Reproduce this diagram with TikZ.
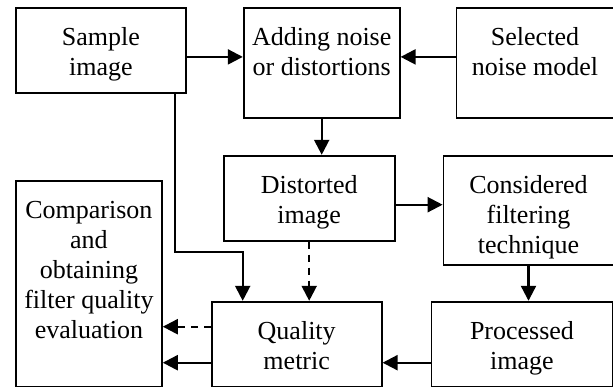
\documentclass[tikz,border=0pt]{standalone}
\usepackage{fontspec}
\setmainfont{Liberation Serif}
\usetikzlibrary{positioning,arrows.meta}

\newcommand{\blocktext}[3]{\parbox[c][#2pt][t]{#1pt}{\centering\vspace*{17pt}\strut #3}}

\begin{document}
\begin{tikzpicture}[x=1pt, y=-1pt,
    blk/.style={draw, line width=1.8pt, inner sep=0pt,
        font=\fontsize{26}{30}\selectfont},
    arr/.style={-{Triangle[length=15pt,width=15pt]}, line width=2.2pt},
    dsh/.style={arr, dash pattern=on 7pt off 6pt}]
    \useasboundingbox (0,0) rectangle (613,387);
    \node[blk, anchor=north west] (sample) at (15,7) {\blocktext{170}{85}{Sample\\image}};
    \node[blk, right=56pt of sample.north east, anchor=north west] (adding) {\blocktext{156}{110}{Adding noise\\or distortions}};
    \node[blk, right=55pt of adding.north east, anchor=north west] (selected) {\blocktext{157}{110}{Selected\\noise model}};
    \node[blk, below right=61pt and 36pt of sample.south east, anchor=north west] (distorted) {\blocktext{171}{85}{Distorted\\image}};
    \node[blk, right=47pt of distorted.north east, anchor=north west] (considered) {\blocktext{170}{109}{Considered\\filtering\\technique}};
    \node[blk, below=86pt of sample.south west, anchor=north west] (comparison) {\blocktext{146}{206}{Comparison\\and\\obtaining\\filter quality\\evaluation}};
    \node[blk, right=48pt of comparison.south east, anchor=south west] (quality) {\blocktext{170}{85}{Quality\\metric}};
    \node[blk, right=48pt of quality.south east, anchor=south west] (processed) {\blocktext{181}{85}{Processed\\image}};

    \draw[arr] ([yshift=-6.5pt]sample.east) -- ([yshift=6pt]adding.west);
    \draw[arr] ([yshift=6pt]selected.west) -- ([yshift=6pt]adding.east);
    \draw[arr] (adding.south) -- (adding.south |- distorted.north);
    \draw[arr] ([yshift=-6.5pt]distorted.east) -- ([yshift=5.5pt]considered.west);
    \draw[arr] (considered.south) -- (considered.south |- processed.north);
    \draw[arr] ([yshift=-18.5pt]processed.west) -- ([yshift=-18.5pt]quality.east);
    \draw[arr] ([yshift=-18.5pt]quality.west) -- ([yshift=-79pt]comparison.east);
    \draw[dsh] ([yshift=17.5pt]quality.west) -- ([yshift=-43pt]comparison.east);
    \draw[dsh] (distorted.south) -- (distorted.south |- quality.north);
    \draw[arr] ([xshift=-12pt]sample.south east) -- ++(0,158) -| ([xshift=-54pt]quality.north);
\end{tikzpicture}
\end{document}
